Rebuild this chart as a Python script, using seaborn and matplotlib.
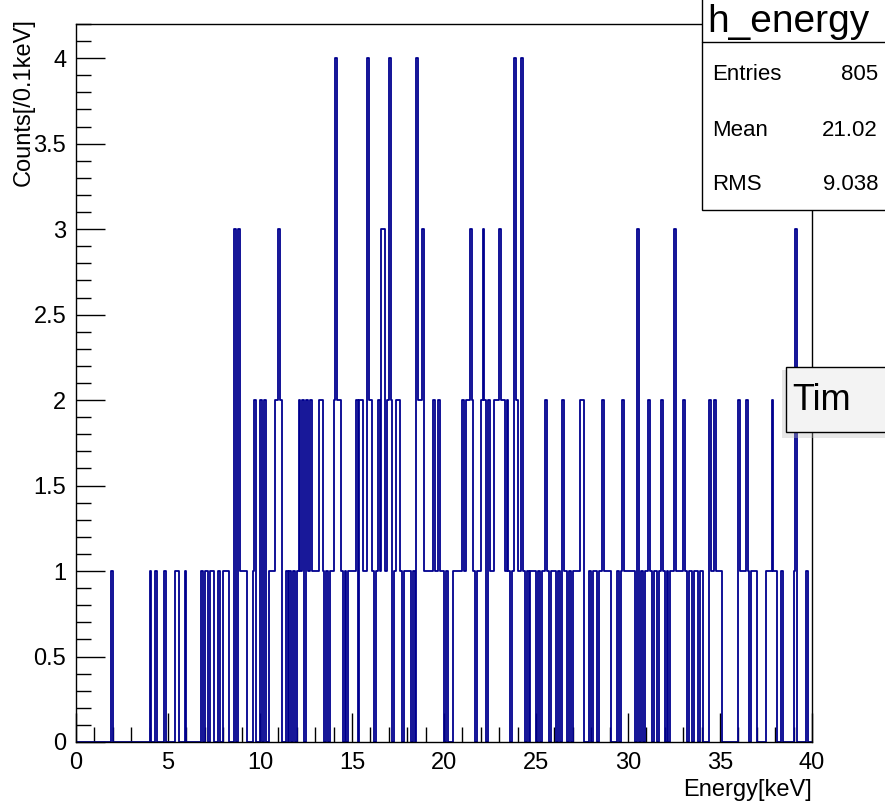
import matplotlib
matplotlib.use("Agg")
import matplotlib.pyplot as plt
import seaborn as sns
import pandas as pd
from matplotlib.patches import Rectangle
from matplotlib.lines import Line2D
from matplotlib.ticker import MultipleLocator, FuncFormatter

# ---- data: lower edge of each non-empty 0.1 keV bin and its count ----
bin_low_kev = [
    1.9, 4.0, 4.3, 4.8, 5.4, 5.5, 5.9, 6.8, 7.0, 7.1, 7.3, 7.4, 7.7, 8.0, 8.1, 8.2,
    8.6, 8.8, 8.9, 9.0, 9.1, 9.2, 9.6, 9.7,
    10.0, 10.2, 10.5, 10.6, 10.7, 10.8, 10.9, 11.0, 11.1, 11.4, 11.6, 11.8, 12.0, 12.1,
    12.2, 12.3, 12.5, 12.6, 12.7, 12.8, 12.9, 13.0, 13.1, 13.2, 13.3, 13.4, 13.6, 13.8,
    13.9, 14.0, 14.1, 14.2, 14.3, 14.4, 14.6, 14.8, 14.9,
    15.0, 15.1, 15.2, 15.4, 15.5, 15.6, 15.7, 15.8, 15.9, 16.0, 16.1, 16.3, 16.4, 16.5,
    16.6, 16.7, 16.8, 16.9, 17.0, 17.1, 17.3, 17.4, 17.5, 17.6, 17.8, 17.9, 18.0, 18.1,
    18.3, 18.5, 18.6, 18.7, 18.8, 18.9, 19.0, 19.1, 19.2, 19.3, 19.4, 19.5, 19.6, 19.7,
    19.8, 19.9,
    20.1, 20.5, 20.6, 20.7, 20.8, 20.9, 21.0, 21.1, 21.2, 21.3, 21.4, 21.5, 21.6, 21.8,
    21.9, 22.0, 22.1, 22.2, 22.4, 22.5, 22.6, 22.7, 22.8, 22.9, 23.0, 23.1, 23.2, 23.3,
    23.4, 23.5, 23.7, 23.8, 23.9, 24.0, 24.1, 24.2, 24.3, 24.5, 24.7, 24.8, 24.9,
    25.1, 25.3, 25.4, 25.5, 25.6, 25.8, 25.9, 26.0, 26.2, 26.4, 26.5, 26.6, 26.8, 27.0,
    27.1, 27.2, 27.3, 27.4, 27.5, 27.9, 28.1, 28.2, 28.4, 28.5, 28.6, 28.7, 28.8, 28.9,
    29.0, 29.4, 29.6, 29.7, 29.8, 29.9,
    30.0, 30.1, 30.2, 30.3, 30.5, 30.7, 30.9, 31.0, 31.1, 31.2, 31.4, 31.5, 31.7, 31.8,
    31.9, 32.1, 32.3, 32.4, 32.5, 32.6, 32.7, 32.8, 32.9, 33.0, 33.1, 33.3, 33.4, 33.6,
    33.7, 33.9, 34.0, 34.4, 34.5, 34.6, 34.7, 34.8, 34.9,
    35.0, 36.0, 36.1, 36.2, 36.3, 36.4, 36.5, 36.7, 36.8, 36.9, 37.5, 37.6, 37.7, 37.8,
    37.9, 38.0, 38.3, 39.0, 39.1, 39.7,
]
counts = [
    1, 1, 1, 1, 1, 1, 1, 1, 1, 1, 1, 1, 1, 1, 1, 1,
    3, 3, 1, 1, 1, 1, 1, 2,
    2, 2, 1, 1, 1, 2, 2, 3, 2, 1, 1, 1, 1, 2,
    1, 2, 2, 1, 2, 1, 1, 1, 1, 2, 2, 1, 1, 1,
    1, 2, 4, 2, 2, 1, 1, 1, 1,
    1, 1, 2, 2, 2, 1, 1, 4, 2, 2, 1, 1, 2, 1,
    3, 3, 1, 2, 4, 2, 1, 2, 2, 1, 1, 1, 1, 1,
    1, 4, 2, 2, 3, 1, 1, 1, 1, 1, 2, 1, 1, 2,
    1, 1,
    1, 1, 1, 1, 1, 1, 2, 1, 2, 2, 3, 2, 1, 1,
    1, 2, 3, 2, 2, 1, 1, 2, 2, 2, 3, 2, 2, 1,
    2, 1, 1, 4, 2, 1, 1, 4, 1, 1, 1, 1, 1,
    1, 1, 1, 2, 1, 1, 1, 1, 1, 2, 1, 1, 1, 1,
    1, 1, 1, 2, 2, 1, 1, 1, 1, 1, 2, 1, 1, 1,
    1, 1, 1, 2, 1, 1,
    1, 1, 1, 1, 3, 1, 1, 1, 2, 1, 1, 1, 1, 2,
    1, 1, 1, 1, 3, 1, 1, 1, 1, 2, 1, 1, 1, 1,
    1, 1, 1, 2, 1, 1, 2, 1, 1,
    1, 2, 1, 1, 1, 2, 1, 1, 1, 1, 1, 1, 1, 2,
    1, 1, 1, 1, 3, 1,
]
bin_width_kev = 0.1
x_range = (0, 40)
y_max = 4.2

hist_name = "h_energy"
stat_labels = ["Entries", "Mean", "RMS"]
stat_values = ["805", "21.02", "9.038"]
x_title = "Energy[keV]"
y_title = "Counts[/0.1keV]"
side_text = "Tim"

df = pd.DataFrame({"energy": [b + bin_width_kev / 2 for b in bin_low_kev],
                   "counts": counts})

sns.set_style("white")
plt.rcParams["font.family"] = ["Liberation Sans", "DejaVu Sans"]
plt.rcParams["text.color"] = "black"
plt.rcParams["axes.labelcolor"] = "black"
plt.rcParams["xtick.color"] = "black"
plt.rcParams["ytick.color"] = "black"

W, H = 885, 809
fig = plt.figure(figsize=(W / 100, H / 100), dpi=100)
ax = fig.add_axes([76 / W, 1 - 742 / H, 736 / W, 718 / H])

sns.histplot(data=df, x="energy", weights="counts", bins=400, binrange=x_range,
             element="step", fill=False, color="#00008f", linewidth=1.3, ax=ax)

ax.set_xlim(*x_range)
ax.set_ylim(0, y_max)
ax.xaxis.set_major_locator(MultipleLocator(5))
ax.xaxis.set_minor_locator(MultipleLocator(1))
ax.yaxis.set_major_locator(MultipleLocator(0.5))
ax.yaxis.set_minor_locator(MultipleLocator(0.1))
ax.yaxis.set_major_formatter(FuncFormatter(lambda v, p: f"{v:g}"))
ax.xaxis.set_major_formatter(FuncFormatter(lambda v, p: f"{v:g}"))
ax.tick_params(which="major", direction="in", length=21, width=1, labelsize=17,
               top=False, right=False, bottom=True, left=True, color="black",
               labelcolor="black")
ax.tick_params(which="minor", direction="in", length=11, width=1,
               top=False, right=False, bottom=True, left=True, color="black")
ax.tick_params(axis="x", pad=7)
ax.tick_params(axis="y", pad=7)
for s in ax.spines.values():
    s.set_color("black")
    s.set_linewidth(1)

ax.set_xlabel(x_title, fontsize=17, loc="right", color="black")
ax.xaxis.set_label_coords(1.0, -0.052)
ax.set_ylabel(y_title, fontsize=17, loc="top", color="black")
ax.yaxis.set_label_coords(-0.056, 1.008)


def fx(x):
    return x / W


def fy(y):
    return 1 - y / H


# stats box
fig.add_artist(Rectangle((fx(702), fy(210)), fx(895) - fx(702), fy(-5) - fy(210),
                         transform=fig.transFigure, facecolor="white",
                         edgecolor="black", linewidth=1, zorder=5))
fig.add_artist(Line2D([fx(702), fx(890)], [fy(42), fy(42)], transform=fig.transFigure,
                      color="black", linewidth=1, zorder=6))
fig.text(fx(707), fy(22), hist_name, fontsize=28, ha="left", va="center", zorder=7,
         color="black")
for i, (lab, val) in enumerate(zip(stat_labels, stat_values)):
    yy = 75 + i * 55
    fig.text(fx(712), fy(yy), lab, fontsize=16, ha="left", va="center", zorder=7,
             color="black")
    fig.text(fx(878), fy(yy), val, fontsize=16, ha="right", va="center", zorder=7,
             color="black")

# partially visible text box
fig.add_artist(Rectangle((fx(782), fy(438)), fx(900) - fx(782), fy(370) - fy(438),
                         transform=fig.transFigure, facecolor="#bbbbbb",
                         edgecolor="none", alpha=0.35, zorder=5))
fig.add_artist(Rectangle((fx(786), fy(432)), fx(900) - fx(786), fy(367) - fy(432),
                         transform=fig.transFigure, facecolor="#f3f3f3",
                         edgecolor="black", linewidth=1, zorder=6))
fig.text(fx(792), fy(401), side_text, fontsize=26, ha="left", va="center", zorder=7,
         color="black")

fig.savefig("out.png", dpi=100, facecolor="white")
